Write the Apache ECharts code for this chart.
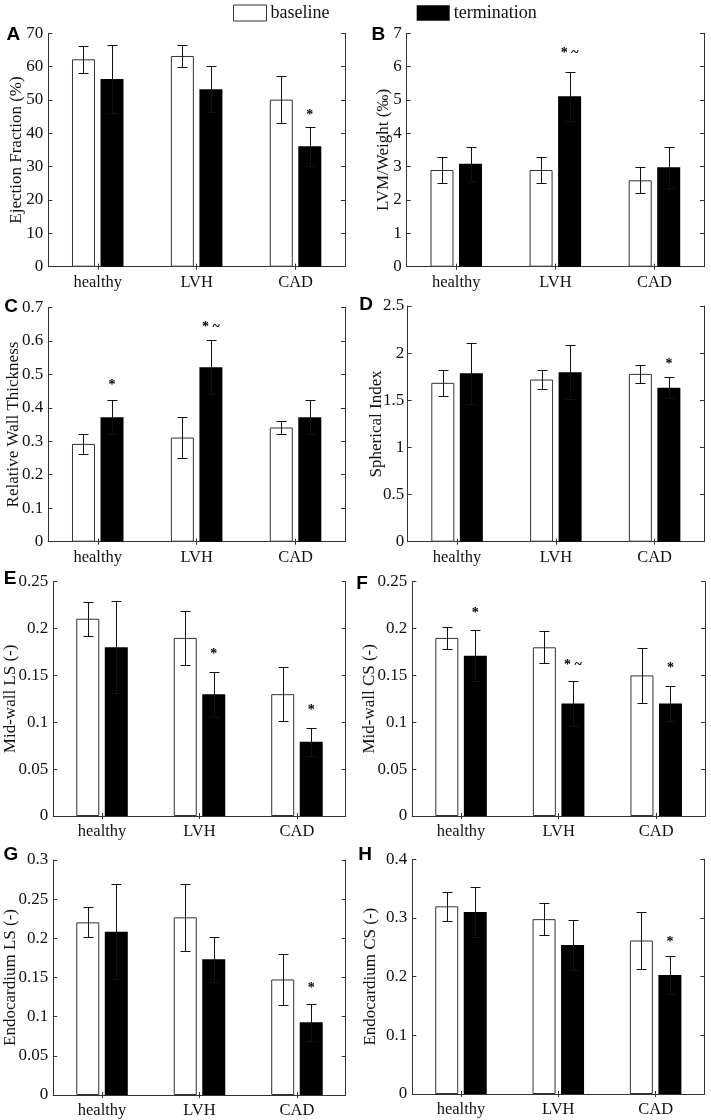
<!DOCTYPE html>
<html><head><meta charset="utf-8">
<script src="https://cdn.jsdelivr.net/npm/echarts@6/dist/echarts.min.js"></script>
<style>html,body{margin:0;padding:0;background:#fff}#c{width:711px;height:1120px}</style>
</head><body><div id="c"></div>
<script>
const categories = ['healthy', 'LVH', 'CAD'];

// A: Ejection Fraction (%)
const efBase = [62.2, 63.2, 50.1];
const efBaseErr = [4.0, 3.2, 7.1];
const efTerm = [56.3, 53.2, 36.1];
const efTermErr = [10.1, 6.9, 5.9];
const efNotes = [[2, 46.5, '*']];

// B: LVM/Weight (‰)
const lvmBase = [2.9, 2.9, 2.59];
const lvmBaseErr = [0.4, 0.4, 0.39];
const lvmTerm = [3.09, 5.11, 2.98];
const lvmTermErr = [0.51, 0.73, 0.62];
const lvmNotes = [[1, 6.52, '* ~']];

// C: Relative Wall Thickness
const rwtBase = [0.292, 0.311, 0.341];
const rwtBaseErr = [0.03, 0.062, 0.02];
const rwtTerm = [0.372, 0.521, 0.372];
const rwtTermErr = [0.05, 0.081, 0.05];
const rwtNotes = [[0, 0.478, '*'], [1, 0.652, '* ~']];

// D: Spherical Index
const siBase = [1.685, 1.72, 1.78];
const siBaseErr = [0.137, 0.10, 0.097];
const siTerm = [1.786, 1.796, 1.633];
const siTermErr = [0.324, 0.287, 0.11];
const siNotes = [[2, 1.927, '*']];

// E: Mid-wall LS (-)
const mwlsBase = [0.2105, 0.19, 0.13];
const mwlsBaseErr = [0.018, 0.0285, 0.0285];
const mwlsTerm = [0.18, 0.13, 0.0793];
const mwlsTermErr = [0.049, 0.024, 0.015];
const mwlsNotes = [[1, 0.177, '*'], [2, 0.1166, '*']];

// F: Mid-wall CS (-)
const mwcsBase = [0.19, 0.18, 0.15];
const mwcsBaseErr = [0.0115, 0.017, 0.029];
const mwcsTerm = [0.171, 0.12, 0.12];
const mwcsTermErr = [0.027, 0.024, 0.019];
const mwcsNotes = [[0, 0.22, '*'], [1, 0.165, '* ~'], [2, 0.162, '*']];

// G: Endocardium LS (-)
const enlsBase = [0.2204, 0.2268, 0.1475];
const enlsBaseErr = [0.019, 0.0425, 0.0326];
const enlsTerm = [0.2085, 0.1732, 0.0928];
const enlsTermErr = [0.061, 0.029, 0.024];
const enlsNotes = [[2, 0.141, '*']];

// H: Endocardium CS (-)
const encsBase = [0.3199, 0.298, 0.2616];
const encsBaseErr = [0.025, 0.027, 0.049];
const encsTerm = [0.3102, 0.254, 0.2028];
const encsTermErr = [0.043, 0.043, 0.032];
const encsNotes = [[2, 0.265, '*']];

const panels = [
  {letter: 'A', yName: 'Ejection Fraction (%)', max: 70, interval: 10, base: efBase, baseErr: efBaseErr, term: efTerm, termErr: efTermErr, notes: efNotes},
  {letter: 'B', yName: 'LVM/Weight (‰)', max: 7, interval: 1, base: lvmBase, baseErr: lvmBaseErr, term: lvmTerm, termErr: lvmTermErr, notes: lvmNotes},
  {letter: 'C', yName: 'Relative Wall Thickness', max: 0.7, interval: 0.1, base: rwtBase, baseErr: rwtBaseErr, term: rwtTerm, termErr: rwtTermErr, notes: rwtNotes},
  {letter: 'D', yName: 'Spherical Index', max: 2.5, interval: 0.5, base: siBase, baseErr: siBaseErr, term: siTerm, termErr: siTermErr, notes: siNotes},
  {letter: 'E', yName: 'Mid-wall LS (-)', max: 0.25, interval: 0.05, base: mwlsBase, baseErr: mwlsBaseErr, term: mwlsTerm, termErr: mwlsTermErr, notes: mwlsNotes},
  {letter: 'F', yName: 'Mid-wall CS (-)', max: 0.25, interval: 0.05, base: mwcsBase, baseErr: mwcsBaseErr, term: mwcsTerm, termErr: mwcsTermErr, notes: mwcsNotes},
  {letter: 'G', yName: 'Endocardium LS (-)', max: 0.3, interval: 0.05, base: enlsBase, baseErr: enlsBaseErr, term: enlsTerm, termErr: enlsTermErr, notes: enlsNotes},
  {letter: 'H', yName: 'Endocardium CS (-)', max: 0.4, interval: 0.1, base: encsBase, baseErr: encsBaseErr, term: encsTerm, termErr: encsTermErr, notes: encsNotes}
];

// layout (pixels)
const layout = [
  {left: 48.3, top: 33.3, width: 296.7, height: 233.4, nameGap: 23, lblMargin: 5, lx: 13.3, ly: 35},
  {left: 406.7, top: 33.3, width: 297.3, height: 233.4, nameGap: 15, lblMargin: 5, lx: 378.3, ly: 35},
  {left: 48.3, top: 307.3, width: 296.7, height: 234.4, nameGap: 26.5, lblMargin: 5, lx: 11, ly: 306.5},
  {left: 407.7, top: 306, width: 296.3, height: 235.7, nameGap: 22.5, lblMargin: 3.5, lx: 366, ly: 305},
  {left: 53.3, top: 581.7, width: 292.4, height: 234.3, nameGap: 34.5, lblMargin: 5, lx: 10, ly: 579},
  {left: 412.3, top: 581.7, width: 292.7, height: 234.3, nameGap: 34.5, lblMargin: 5, lx: 362, ly: 583.5},
  {left: 53.3, top: 860, width: 292.4, height: 235, nameGap: 34.5, lblMargin: 5, lx: 11, ly: 855},
  {left: 412.3, top: 859.3, width: 292, height: 234.7, nameGap: 33.5, lblMargin: 5, lx: 365, ly: 855}
];

const FONT = "'Liberation Serif', 'Times New Roman', serif";
const AXIS_COLOR = '#333';
const BAR_W = 23;
const BAR_GAP = 0.24;
const OFFSET = (BAR_W + BAR_W * BAR_GAP) / 2;
const CAP = 5;

function errRender(offset) {
  return function (params, api) {
    const x = api.value(0), m = api.value(1), e = api.value(2);
    const top = api.coord([x, m + e]);
    const bot = api.coord([x, m - e]);
    const cx = Math.round(top[0] + offset) + 0.5;
    const ty = Math.round(top[1]) + 0.5, by = Math.round(bot[1]) + 0.5;
    const st = {stroke: '#111', lineWidth: 1};
    return {type: 'group', children: [
      {type: 'line', shape: {x1: cx, y1: ty, x2: cx, y2: by}, style: st},
      {type: 'line', shape: {x1: cx - CAP, y1: ty, x2: cx + CAP, y2: ty}, style: st},
      {type: 'line', shape: {x1: cx - CAP, y1: by, x2: cx + CAP, y2: by}, style: st}
    ]};
  };
}
function noteRender(notes, offset) {
  return function (params, api) {
    const p = api.coord([api.value(0), api.value(1)]);
    return {type: 'text', x: p[0] + offset, y: p[1] + 4, style: {
      text: notes[params.dataIndex][2], textAlign: 'center', textVerticalAlign: 'middle',
      font: "bold 14px 'Liberation Serif'", fill: '#000'}};
  };
}

const grid = [], xAxis = [], yAxis = [], series = [], graphic = [];
panels.forEach(function (p, i) {
  const L = layout[i];
  grid.push({left: L.left, top: L.top, width: L.width, height: L.height, containLabel: false});
  xAxis.push({
    type: 'category', gridIndex: i, position: 'bottom', data: categories,
    axisLine: {show: true, lineStyle: {color: AXIS_COLOR, width: 1}},
    axisTick: {show: true, inside: true, alignWithLabel: true, length: 3, lineStyle: {color: AXIS_COLOR}},
    axisLabel: {show: true, interval: 0, margin: 7.5, fontSize: 16.5, fontFamily: FONT, color: '#111'},
    splitLine: {show: false}
  });
  xAxis.push({
    type: 'category', gridIndex: i, position: 'top', data: categories,
    axisLine: {show: true, lineStyle: {color: AXIS_COLOR, width: 1}},
    axisTick: {show: true, inside: true, alignWithLabel: true, length: 3, lineStyle: {color: AXIS_COLOR}},
    axisLabel: {show: false}, splitLine: {show: false}
  });
  yAxis.push({
    type: 'value', gridIndex: i, position: 'left', min: 0, max: p.max, interval: p.interval,
    name: p.yName, nameLocation: 'middle', nameGap: L.nameGap, nameMoveOverlap: false,
    nameTextStyle: {fontSize: 17, fontFamily: FONT, color: '#111'},
    axisLine: {show: true, lineStyle: {color: AXIS_COLOR, width: 1}},
    axisTick: {show: true, inside: true, length: 4, lineStyle: {color: AXIS_COLOR}},
    axisLabel: {show: true, margin: L.lblMargin, fontSize: 17, fontFamily: FONT, color: '#111'},
    splitLine: {show: false}
  });
  yAxis.push({
    type: 'value', gridIndex: i, position: 'right', min: 0, max: p.max, interval: p.interval,
    axisLine: {show: true, lineStyle: {color: AXIS_COLOR, width: 1}},
    axisTick: {show: true, inside: true, length: 4, lineStyle: {color: AXIS_COLOR}},
    axisLabel: {show: false}, splitLine: {show: false}
  });
  const xi = 2 * i, yi = 2 * i;
  series.push({
    name: 'baseline', type: 'bar', xAxisIndex: xi, yAxisIndex: yi, data: p.base,
    barWidth: BAR_W, barGap: (BAR_GAP * 100) + '%',
    itemStyle: {color: '#fff', borderColor: '#333', borderWidth: 1}, silent: true, z: 2
  });
  series.push({
    name: 'termination', type: 'bar', xAxisIndex: xi, yAxisIndex: yi, data: p.term,
    barWidth: BAR_W, barGap: (BAR_GAP * 100) + '%',
    itemStyle: {color: '#000', borderColor: '#000', borderWidth: 0}, silent: true, z: 2
  });
  series.push({
    name: 'err-base-' + i, type: 'custom', xAxisIndex: xi, yAxisIndex: yi, z: 3, silent: true,
    renderItem: errRender(-OFFSET),
    data: p.base.map(function (v, k) { return [k, v, p.baseErr[k]]; })
  });
  series.push({
    name: 'err-term-' + i, type: 'custom', xAxisIndex: xi, yAxisIndex: yi, z: 3, silent: true,
    renderItem: errRender(OFFSET),
    data: p.term.map(function (v, k) { return [k, v, p.termErr[k]]; })
  });
  series.push({
    name: 'notes-' + i, type: 'custom', xAxisIndex: xi, yAxisIndex: yi, z: 4, silent: true,
    renderItem: noteRender(p.notes, OFFSET),
    data: p.notes.map(function (n) { return [n[0], n[1]]; })
  });
  graphic.push({type: 'text', style: {
    text: p.letter, x: L.lx, y: L.ly, textAlign: 'center', textVerticalAlign: 'middle',
    font: "bold 19px 'Liberation Sans', Arial, sans-serif", fill: '#000'}});
});

const chart = echarts.init(document.getElementById('c'), null, {renderer: 'canvas'});
chart.setOption({
  backgroundColor: '#fff',
  animation: false,
  textStyle: {fontFamily: FONT},
  legend: [
    {data: [{name: 'baseline', itemStyle: {color: '#fff', borderColor: '#333', borderWidth: 1}}],
     left: 233, top: 4, padding: 0, itemWidth: 33, itemHeight: 16, icon: 'rect', itemGap: 0,
     selectedMode: false, textStyle: {fontFamily: FONT, fontSize: 18, color: '#111', padding: [0, 0, 0, -1]}},
    {data: [{name: 'termination', itemStyle: {color: '#000'}}],
     left: 416.7, top: 4, padding: 0, itemWidth: 33, itemHeight: 15.5, icon: 'rect', itemGap: 0,
     selectedMode: false, textStyle: {fontFamily: FONT, fontSize: 18, color: '#111', padding: [0, 0, 0, -1]}}
  ],
  grid: grid, xAxis: xAxis, yAxis: yAxis, series: series, graphic: graphic
});
</script></body></html>
